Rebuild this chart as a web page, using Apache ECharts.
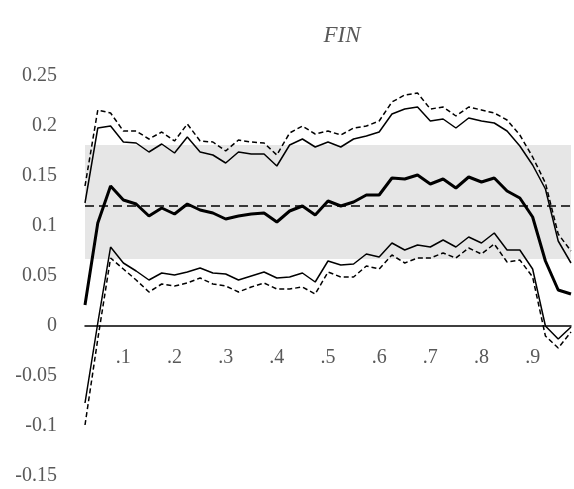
<!DOCTYPE html>
<html>
<head>
<meta charset="utf-8">
<script src="https://cdn.jsdelivr.net/npm/echarts@6/dist/echarts.min.js"></script>
<style>
  html, body { margin: 0; padding: 0; background: #fff; }
  #chart { width: 574px; height: 489px; }
</style>
</head>
<body>
<div id="chart"></div>
<script>
// Quantiles on the horizontal axis
const quantiles = [0.025, 0.05, 0.075, 0.1, 0.125, 0.15, 0.175, 0.2, 0.225, 0.25,
  0.275, 0.3, 0.325, 0.35, 0.375, 0.4, 0.425, 0.45, 0.475, 0.5,
  0.525, 0.55, 0.575, 0.6, 0.625, 0.65, 0.675, 0.7, 0.725, 0.75,
  0.775, 0.8, 0.825, 0.85, 0.875, 0.9, 0.925, 0.95, 0.975];

// Point estimate
const estimate = [0.021, 0.103, 0.140, 0.126, 0.122, 0.110, 0.118, 0.112, 0.122, 0.116,
  0.113, 0.107, 0.110, 0.112, 0.113, 0.104, 0.115, 0.120, 0.111, 0.125,
  0.120, 0.124, 0.131, 0.131, 0.148, 0.147, 0.151, 0.142, 0.147, 0.138,
  0.149, 0.144, 0.148, 0.135, 0.128, 0.109, 0.065, 0.036, 0.032];

// Inner confidence bounds (solid)
const upperInner = [0.123, 0.198, 0.200, 0.184, 0.183, 0.174, 0.182, 0.173, 0.189, 0.174,
  0.171, 0.163, 0.174, 0.172, 0.172, 0.160, 0.181, 0.187, 0.179, 0.184,
  0.179, 0.187, 0.190, 0.194, 0.212, 0.217, 0.219, 0.205, 0.207, 0.198,
  0.208, 0.205, 0.203, 0.195, 0.180, 0.161, 0.137, 0.085, 0.063];
const lowerInner = [-0.077, 0.003, 0.079, 0.063, 0.055, 0.046, 0.053, 0.051, 0.054, 0.058,
  0.053, 0.052, 0.046, 0.050, 0.054, 0.048, 0.049, 0.053, 0.044, 0.065,
  0.061, 0.062, 0.072, 0.069, 0.083, 0.076, 0.081, 0.079, 0.086, 0.079,
  0.089, 0.083, 0.093, 0.076, 0.076, 0.057, 0.000, -0.013, -0.001];

// Outer confidence bounds (dashed)
const upperOuter = [0.140, 0.216, 0.213, 0.195, 0.195, 0.187, 0.194, 0.185, 0.202, 0.185,
  0.184, 0.175, 0.186, 0.184, 0.183, 0.171, 0.193, 0.200, 0.192, 0.195,
  0.191, 0.198, 0.200, 0.205, 0.224, 0.231, 0.233, 0.217, 0.219, 0.210,
  0.219, 0.216, 0.213, 0.206, 0.191, 0.169, 0.143, 0.092, 0.075];
const lowerOuter = [-0.099, -0.013, 0.068, 0.057, 0.046, 0.034, 0.042, 0.040, 0.043, 0.048,
  0.042, 0.040, 0.034, 0.039, 0.043, 0.037, 0.037, 0.039, 0.032, 0.054,
  0.049, 0.049, 0.060, 0.057, 0.071, 0.063, 0.068, 0.068, 0.073, 0.068,
  0.078, 0.072, 0.082, 0.064, 0.066, 0.049, -0.010, -0.022, -0.006];

// Reference band and reference level
const bandRange = [0.067, 0.181];
const referenceLevel = 0.124;

// Axis labels
const xTickLabels = ['.1', '.2', '.3', '.4', '.5', '.6', '.7', '.8', '.9'];
const yTickLabels = ['-0.15', '-0.1', '-0.05', '0', '0.05', '0.1', '0.15', '0.2', '0.25'];

const Y_MIN = -0.15, Y_MAX = 0.25;
const FONT = '"Liberation Serif", "DejaVu Serif", serif';
const GRAY = '#595959';

const GRID = { left: 85, right: 3, top: 76, bottom: 13 };
const PLOT_HEIGHT = 489 - GRID.top - GRID.bottom;
// the category axis sits on the zero line, lifted up from the plot's bottom edge
const zeroOffset = -PLOT_HEIGHT * (0 - Y_MIN) / (Y_MAX - Y_MIN);

function tickIndex(q) {
  const k = Math.round(q * 10);
  return (Math.abs(q * 10 - k) < 1e-9 && k >= 1 && k <= 9) ? k - 1 : -1;
}

const chart = echarts.init(document.getElementById('chart'), null, { renderer: 'canvas' });

chart.setOption({
  animation: false,
  backgroundColor: '#fff',
  title: {
    text: 'FIN',
    left: 337,
    textAlign: 'center',
    top: 19,
    textStyle: { fontFamily: FONT, fontStyle: 'italic', fontWeight: 'normal', fontSize: 23, color: GRAY }
  },
  grid: Object.assign({ containLabel: false, outerBoundsMode: 'none' }, GRID),
  xAxis: {
    type: 'category',
    data: quantiles,
    boundaryGap: false,
    position: 'bottom',
    offset: zeroOffset,
    axisLine: { onZero: false, lineStyle: { color: '#000', width: 1.5 } },
    axisTick: { show: false },
    splitLine: { show: false },
    axisLabel: {
      interval: (idx, val) => tickIndex(Number(val)) >= 0,
      formatter: (val) => { const t = tickIndex(Number(val)); return t >= 0 ? xTickLabels[t] : ''; },
      margin: 22,
      fontFamily: FONT,
      fontSize: 20,
      color: GRAY
    }
  },
  yAxis: {
    type: 'value',
    min: Y_MIN,
    max: Y_MAX,
    interval: 0.05,
    axisLine: { show: false },
    axisTick: { show: false },
    splitLine: { show: false },
    axisLabel: {
      margin: 28,
      fontFamily: FONT,
      fontSize: 20,
      color: GRAY,
      formatter: (v) => {
        const i = Math.round((v - Y_MIN) / 0.05);
        return yTickLabels[i] !== undefined ? yTickLabels[i] : '';
      }
    }
  },
  series: [
    {
      name: 'band',
      type: 'line',
      data: [],
      z: 1,
      silent: true,
      markArea: {
        silent: true,
        itemStyle: { color: '#e6e6e6' },
        data: [[{ yAxis: bandRange[0] }, { yAxis: bandRange[1] }]]
      },
      markLine: {
        silent: true,
        symbol: 'none',
        label: { show: false },
        lineStyle: { color: '#000', width: 1.5, type: [9, 5] },
        data: [{ yAxis: referenceLevel }]
      }
    },
    {
      name: 'upperOuter', type: 'line', data: upperOuter, z: 3, symbol: 'none',
      lineStyle: { color: '#000', width: 1.5, type: [5, 3] }
    },
    {
      name: 'lowerOuter', type: 'line', data: lowerOuter, z: 3, symbol: 'none',
      lineStyle: { color: '#000', width: 1.5, type: [5, 3] }
    },
    {
      name: 'upperInner', type: 'line', data: upperInner, z: 4, symbol: 'none',
      lineStyle: { color: '#000', width: 1.5 }
    },
    {
      name: 'lowerInner', type: 'line', data: lowerInner, z: 4, symbol: 'none',
      lineStyle: { color: '#000', width: 1.5 }
    },
    {
      name: 'estimate', type: 'line', data: estimate, z: 5, symbol: 'none',
      lineStyle: { color: '#000', width: 3 }
    }
  ]
});
</script>
</body>
</html>
